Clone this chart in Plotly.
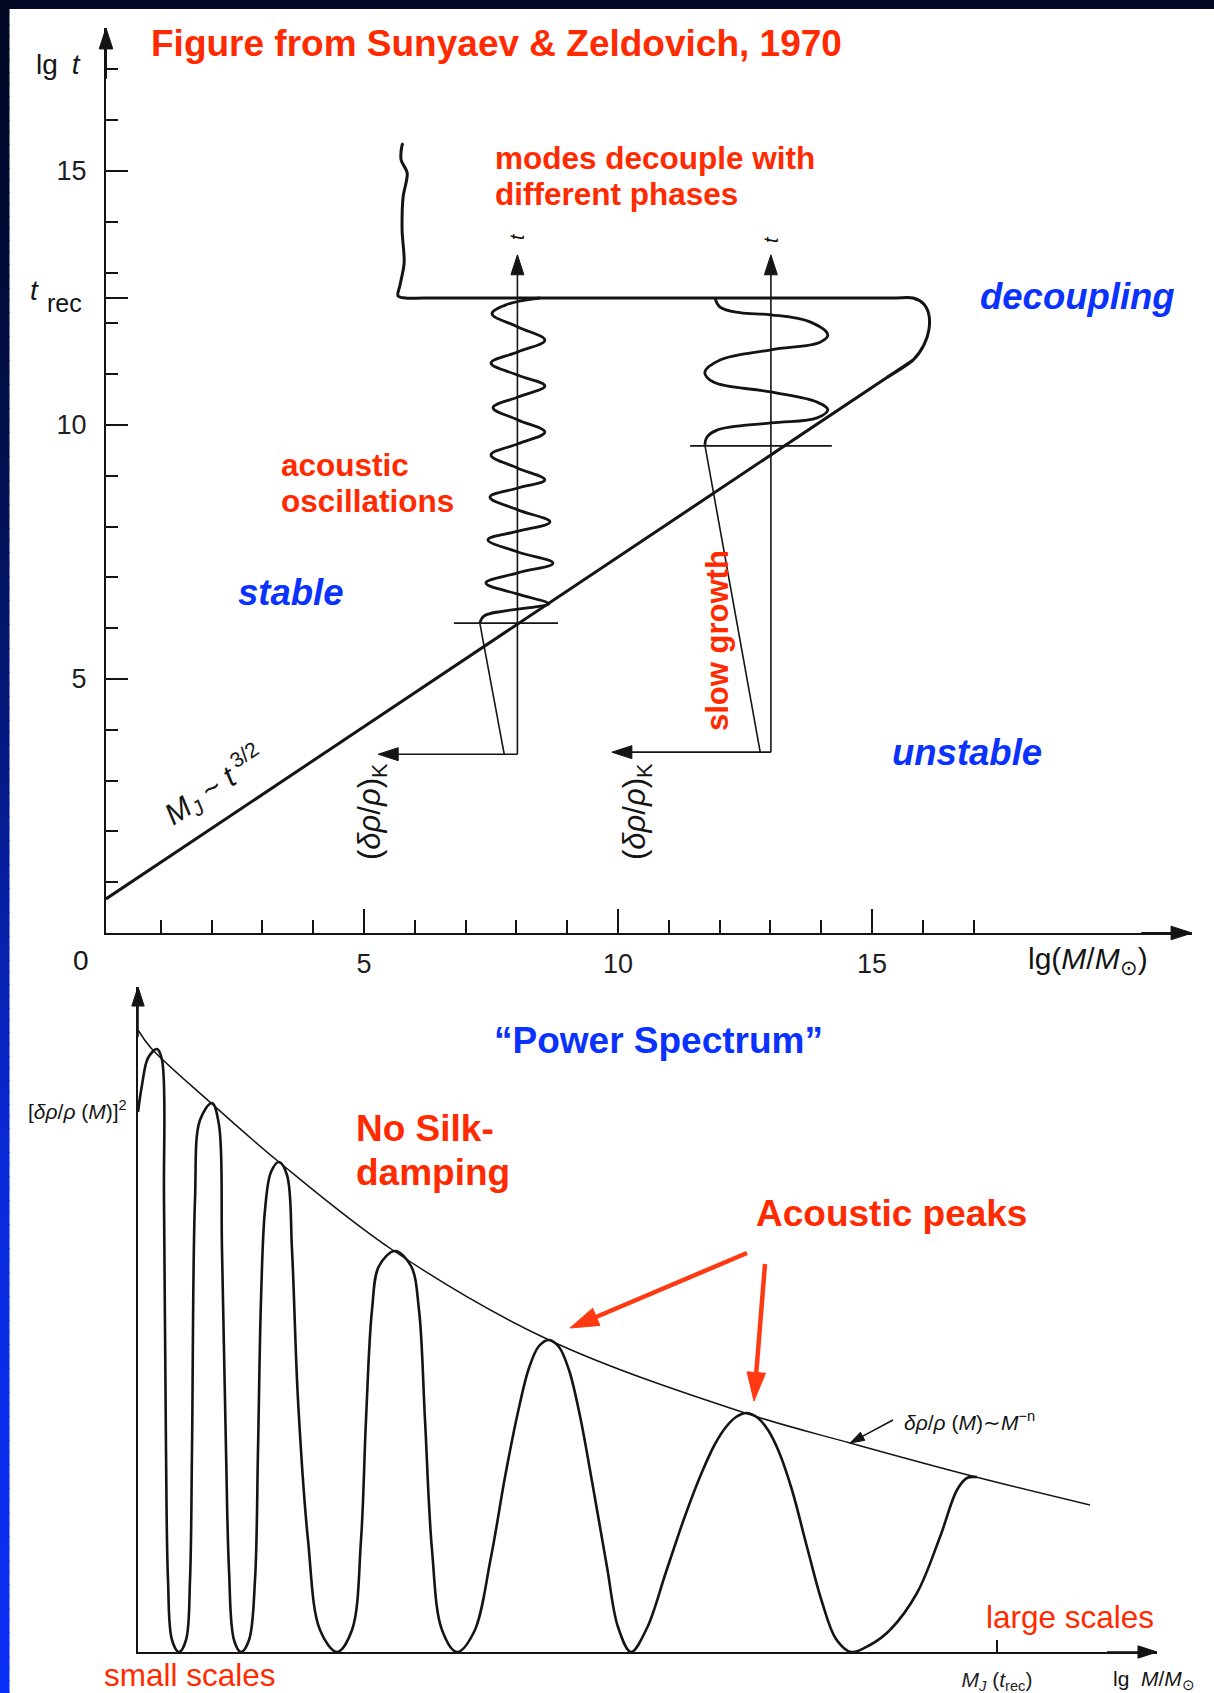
import plotly.graph_objects as go
import numpy as np

W, H = 1214, 1693

# ---------------- top panel: lg M (x) vs lg t (y) ----------------
jeans_lgM = [-0.08, 15.81]
jeans_lgt = [0.67, 11.28]

decoup_lgM = [15.30, 15.81, 16.02, 16.12, 16.12, 16.02, 15.81, 15.40, 6.20, 5.81, 5.67, 5.71, 5.79, 5.75, 5.77, 5.85, 5.73, 5.75, 5.77]
decoup_lgt = [10.94, 11.28, 11.57, 11.87, 12.17, 12.38, 12.50, 12.50, 12.50, 12.50, 12.54, 12.76, 13.19, 13.84, 14.49, 14.96, 15.22, 15.51, 15.55]

small_wedge_lgM = [7.76, 7.28]
small_wedge_lgt = [3.52, 6.10]
small_osc_lgM = [7.28, 7.36, 7.78, 8.37, 8.64, 8.03, 7.40, 8.03, 8.72, 8.03, 7.44, 8.03, 8.66, 8.03, 7.48, 8.03,
                 8.56, 8.03, 7.50, 8.03, 8.56, 8.03, 7.54, 8.03, 8.56, 8.03, 7.50, 8.03, 8.56, 8.03, 7.52, 7.78, 8.17, 8.47]
small_osc_lgt = [6.10, 6.24, 6.34, 6.42, 6.48, 6.67, 6.89, 7.09, 7.28, 7.50, 7.74, 7.91, 8.09, 8.33, 8.58, 8.76,
                 8.92, 9.15, 9.41, 9.63, 9.86, 10.10, 10.34, 10.55, 10.77, 10.98, 11.22, 11.44, 11.67, 11.93, 12.19, 12.36, 12.46, 12.50]

large_wedge_lgM = [12.80, 11.71]
large_wedge_lgt = [3.56, 9.61]
large_osc_lgM = [11.71, 11.75, 11.95, 13.01, 13.92, 14.13, 13.92, 13.01, 11.87, 11.71, 12.01, 13.01, 13.98, 14.13, 13.78, 13.01, 12.40, 12.01, 11.91]
large_osc_lgt = [9.61, 9.76, 9.90, 10.04, 10.14, 10.30, 10.45, 10.65, 10.85, 11.04, 11.28, 11.48, 11.63, 11.77, 12.03, 12.17, 12.21, 12.32, 12.50]

horizon_lgt = [6.10, 9.59]
horizon_lgM_left = [6.77, 11.42]
horizon_lgM_right = [8.82, 14.21]

mode_lgM = [8.02, 13.01]
mode_lgt_base = [3.52, 3.56]
mode_lgt_tip = [13.35, 13.35]
amp_tip_lgM = [5.28, 9.88]

x_major = [5, 10, 15]
x_major_text = ["5", "10", "15"]
x_minor = [1, 2, 3, 4, 6, 7, 8, 9, 11, 12, 13, 14, 16, 17]
t_rec = 12.5
y_major = [5, 10, 15, t_rec]
y_major_text = ["5", "10", "15", " "]
y_minor = [1, 2, 3, 4, 6, 7, 8, 9, 11, 12, 13, 14, 16, 17]

top_x_range = [-0.079, 21.30]
top_y_range = [0.0, 17.815]

# ---------------- bottom panel: power spectrum ----------------
env_lgM = [0.00, 0.13, 0.73, 1.41, 2.56, 4.11, 6.07, 7.12, 8.34, 9.52]
env_pow = [6.22, 6.04, 5.49, 4.90, 4.01, 3.12, 2.39, 2.09, 1.76, 1.47]

spec_lgM = [0.00, 0.04, 0.10, 0.19, 0.24, 0.26, 0.28, 0.30, 0.34, 0.41, 0.48, 0.52, 0.54, 0.57, 0.62, 0.74,
            0.81, 0.84, 0.88, 0.91, 0.96, 1.03, 1.11, 1.17, 1.20, 1.23, 1.27, 1.33, 1.41, 1.49, 1.54, 1.60,
            1.70, 1.82, 1.99, 2.14, 2.23, 2.28, 2.34, 2.41, 2.57, 2.73, 2.81, 2.87, 2.94, 3.04, 3.19, 3.36,
            3.53, 3.67, 3.80, 3.91, 4.01, 4.11, 4.21, 4.31, 4.42, 4.55, 4.69, 4.80, 4.93, 5.09, 5.28, 5.47,
            5.64, 5.77, 5.88, 5.98, 6.09, 6.20, 6.30, 6.41, 6.54, 6.69, 6.84, 6.98, 7.13, 7.32, 7.52, 7.79,
            8.02, 8.19, 8.29, 8.39]
spec_pow = [5.40, 5.67, 5.94, 6.03, 5.92, 4.52, 2.02, 0.72, 0.12, 0.00, 0.12, 0.72, 2.02, 4.52, 5.32, 5.49,
            5.27, 4.02, 2.02, 0.82, 0.12, 0.00, 0.12, 0.72, 2.02, 3.52, 4.42, 4.80, 4.90, 4.77, 4.02, 2.52,
            1.12, 0.22, 0.00, 0.22, 1.12, 2.32, 3.42, 3.86, 4.01, 3.86, 3.42, 2.32, 1.02, 0.22, 0.00, 0.20,
            0.95, 1.75, 2.40, 2.84, 3.06, 3.12, 3.05, 2.82, 2.36, 1.65, 0.85, 0.25, 0.00, 0.24, 0.80, 1.36,
            1.80, 2.08, 2.25, 2.35, 2.39, 2.34, 2.22, 2.00, 1.62, 1.05, 0.50, 0.13, 0.00, 0.07, 0.22, 0.59,
            1.15, 1.62, 1.74, 1.75]

MJ_trec = 8.59
peak_arrow_from = [(6.09, 3.99), (6.27, 3.88)]
peak_arrow_to = [(4.32, 3.24), (6.16, 2.51)]
env_arrow_from = (7.55, 2.32)
env_arrow_to = (7.12, 2.09)

bot_x_range = [0.0, 10.19]
bot_y_range = [0.0, 6.65]

# ---------------- styling ----------------
ink = "#141414"
red = "#ff2a00"
arrow_red = "#ff3a12"
blue = "#0a32ff"
scan_font = "Liberation Sans"
bold_font = "Liberation Sans"

fig = go.Figure()


def curve(x, y, w, shape="linear", xa="x", ya="y", smoothing=1.0):
    ln = dict(color=ink, width=w, shape=shape)
    if shape == "spline":
        ln["smoothing"] = smoothing
    fig.add_trace(go.Scatter(x=x, y=y, mode="lines", xaxis=xa, yaxis=ya, line=ln,
                             hoverinfo="skip", showlegend=False))


def arrow(x0, y0, x1, y1, xa, ya, color, width, head):
    fig.add_trace(go.Scatter(x=[x0, x1], y=[y0, y1], mode="lines+markers", xaxis=xa, yaxis=ya,
                             line=dict(color=color, width=width),
                             marker=dict(symbol="arrow", angleref="previous", size=[0, head],
                                         color=color, opacity=1,
                                         line=dict(width=1, color=color)),
                             cliponaxis=False, hoverinfo="skip", showlegend=False))


curve(jeans_lgM, jeans_lgt, 3)
curve(decoup_lgM, decoup_lgt, 3, "spline", smoothing=0.9)
curve(small_wedge_lgM, small_wedge_lgt, 1.6)
curve(small_osc_lgM, small_osc_lgt, 2.8, "spline", smoothing=1.1)
curve(large_wedge_lgM, large_wedge_lgt, 1.6)
curve(large_osc_lgM, large_osc_lgt, 2.8, "spline", smoothing=1.1)
for yv, xl, xr in zip(horizon_lgt, horizon_lgM_left, horizon_lgM_right):
    curve([xl, xr], [yv, yv], 1.8)

curve(env_lgM, env_pow, 1.5, "spline", xa="x2", ya="y2")
curve(spec_lgM, spec_pow, 2.6, "spline", xa="x2", ya="y2", smoothing=1.0)

# mode time-axes and amplitude arrows
for xm, yb, yt, xt in zip(mode_lgM, mode_lgt_base, mode_lgt_tip, amp_tip_lgM):
    arrow(xm, yb, xm, yt, "x", "y", ink, 1.6, 21)
    arrow(xm, yb, xt, yb, "x", "y", ink, 1.6, 21)

# axis arrowheads
arrow(top_x_range[0], top_y_range[1] - 1.0, top_x_range[0], top_y_range[1], "x", "y", ink, 2, 22)
arrow(top_x_range[1] - 1.0, 0, top_x_range[1], 0, "x", "y", ink, 2, 22)
arrow(0, bot_y_range[1] - 0.5, 0, bot_y_range[1], "x2", "y2", ink, 1.6, 20)
arrow(bot_x_range[1] - 0.5, 0, bot_x_range[1], 0, "x2", "y2", ink, 1.6, 20)

# red "Acoustic peaks" arrows and envelope pointer
for (fx, fy), (tx, ty) in zip(peak_arrow_from, peak_arrow_to):
    arrow(fx, fy, tx, ty, "x2", "y2", arrow_red, 4.5, 30)
arrow(env_arrow_from[0], env_arrow_from[1], env_arrow_to[0], env_arrow_to[1], "x2", "y2", ink, 1.5, 15)

annotations = []


def txt(text, px, py, size, color=ink, anchor="left", angle=0, family=scan_font):
    annotations.append(dict(text=text, x=px / W, y=1 - py / H, xref="paper", yref="paper",
                            xanchor=anchor, yanchor="middle", showarrow=False, textangle=angle,
                            font=dict(family=family, size=size, color=color)))


# red / blue overlay labels
txt("<b>Figure from Sunyaev &amp; Zeldovich, 1970</b>", 149, 44, 37, red, family=bold_font)
txt("<b>modes decouple with</b>", 493, 158, 31.5, red, family=bold_font)
txt("<b>different phases</b>", 493, 194, 31.5, red, family=bold_font)
txt("<b><i>decoupling</i></b>", 978, 297, 36.5, blue, family=bold_font)
txt("<b>acoustic</b>", 279, 465, 31.5, red, family=bold_font)
txt("<b>oscillations</b>", 279, 501, 31.5, red, family=bold_font)
txt("<b><i>stable</i></b>", 236, 592, 36.5, blue, family=bold_font)
txt("<b><i>unstable</i></b>", 890, 752, 36.5, blue, family=bold_font)
txt("<b>slow growth</b>", 718, 641, 31, red, anchor="center", angle=-90, family=bold_font)
txt("<b>\u201cPower Spectrum\u201d</b>", 492, 1040, 37, blue, family=bold_font)
txt("<b>No Silk-</b>", 354, 1128, 37, red, family=bold_font)
txt("<b>damping</b>", 354, 1172, 37, red, family=bold_font)
txt("<b>Acoustic peaks</b>", 754, 1213, 37, red, family=bold_font)
txt("large scales", 984, 1617, 31.5, red)
txt("small scales", 102, 1675, 31.5, red)

# scanned-figure labels
txt("lg\u2002<i>t</i>", 34, 64, 28)
txt("<i>t</i>", 34, 291, 28, anchor="center")
txt("rec", 45, 303, 25)
txt("0", 81, 960, 28, anchor="center")
txt("lg(<i>M</i>/<i>M</i><sub>\u2299</sub>)", 1026, 960, 30)
txt("<i>M<sub>J</sub></i> ~ <i>t</i><sup> 3/2</sup>", 214, 786, 30, anchor="center", angle=-33.7)
txt("(<i>\u03b4\u03c1</i>/<i>\u03c1</i>)<sub>K</sub>", 372, 812, 31, anchor="center", angle=-90)
txt("(<i>\u03b4\u03c1</i>/<i>\u03c1</i>)<sub>K</sub>", 637, 812, 31, anchor="center", angle=-90)
txt("<i>t</i>", 517, 237, 20, anchor="center", angle=-90)
txt("<i>t</i>", 771, 240, 20, anchor="center", angle=-90)
txt("[<i>\u03b4\u03c1</i>/<i>\u03c1</i> (<i>M</i>)]<sup>2</sup>", 26, 1110, 21)
txt("lg  <i>M</i>/<i>M</i><sub>\u2299</sub>", 1111, 1680, 21)
txt("<i>\u03b4\u03c1</i>/<i>\u03c1</i> (<i>M</i>)\u223c<i>M</i><sup>\u2212n</sup>", 902, 1421, 21)

# background frame: dark top strip and navy-to-blue left strip
shapes = [dict(type="rect", xref="paper", yref="paper", x0=0, x1=1, y0=1 - 9 / H, y1=1,
               fillcolor="#000824", line=dict(width=0), layer="above")]
stop_y = [0, 250, 500, 750, 950, 1150, 1400, 1693]
stop_r = [0, 1, 3, 5, 7, 9, 10, 10]
stop_g = [8, 12, 18, 26, 34, 42, 46, 48]
stop_b = [36, 55, 85, 130, 175, 215, 235, 245]
step = 12
for y0 in range(0, H, step):
    yc = y0 + step / 2
    r = int(np.interp(yc, stop_y, stop_r))
    g = int(np.interp(yc, stop_y, stop_g))
    b = int(np.interp(yc, stop_y, stop_b))
    shapes.append(dict(type="rect", xref="paper", yref="paper", x0=0, x1=9.5 / W,
                       y0=1 - min(y0 + step + 1, H) / H, y1=1 - y0 / H,
                       fillcolor=f"rgb({r},{g},{b})", line=dict(width=0), layer="above"))

axis_common = dict(showline=True, linecolor=ink, linewidth=2, showgrid=False, zeroline=False,
                   fixedrange=True, automargin=False, tickcolor=ink, tickwidth=1.5,
                   tickfont=dict(family=scan_font, size=27, color="#1e1e1e"))

fig.update_layout(
    width=W, height=H, margin=dict(l=0, r=0, t=0, b=0),
    paper_bgcolor="white", plot_bgcolor="rgba(0,0,0,0)", showlegend=False,
    xaxis=dict(domain=[106 / W, 1192 / W], range=top_x_range, anchor="y", ticks="inside",
               tickmode="array", tickvals=x_major, ticktext=x_major_text, ticklen=24,
               ticklabelstandoff=6,
               minor=dict(tickmode="array", tickvals=x_minor, ticks="inside", ticklen=13,
                          tickwidth=1.5, tickcolor=ink),
               **axis_common),
    yaxis=dict(domain=[1 - 933 / H, 1 - 28 / H], range=top_y_range, anchor="x", ticks="inside",
               tickmode="array", tickvals=y_major, ticktext=y_major_text, ticklen=22,
               ticklabelstandoff=12,
               minor=dict(tickmode="array", tickvals=y_minor, ticks="inside", ticklen=12,
                          tickwidth=1.5, tickcolor=ink),
               **axis_common),
    xaxis2=dict(domain=[138 / W, 1157 / W], range=bot_x_range, anchor="y2", ticks="inside",
                tickmode="array", tickvals=[MJ_trec],
                ticktext=["<i>M<sub>J</sub></i> (<i>t</i><sub>rec</sub>)"], ticklen=12,
                ticklabelstandoff=8,
                **{**axis_common, "linewidth": 1.6,
                   "tickfont": dict(family=scan_font, size=21, color="#1e1e1e")}),
    yaxis2=dict(domain=[1 - 1652 / H, 1 - 987 / H], range=bot_y_range, anchor="x2",
                ticks="", showticklabels=False,
                **{**axis_common, "linewidth": 1.6}),
    annotations=annotations,
    shapes=shapes,
)

fig.write_html("out.html")
